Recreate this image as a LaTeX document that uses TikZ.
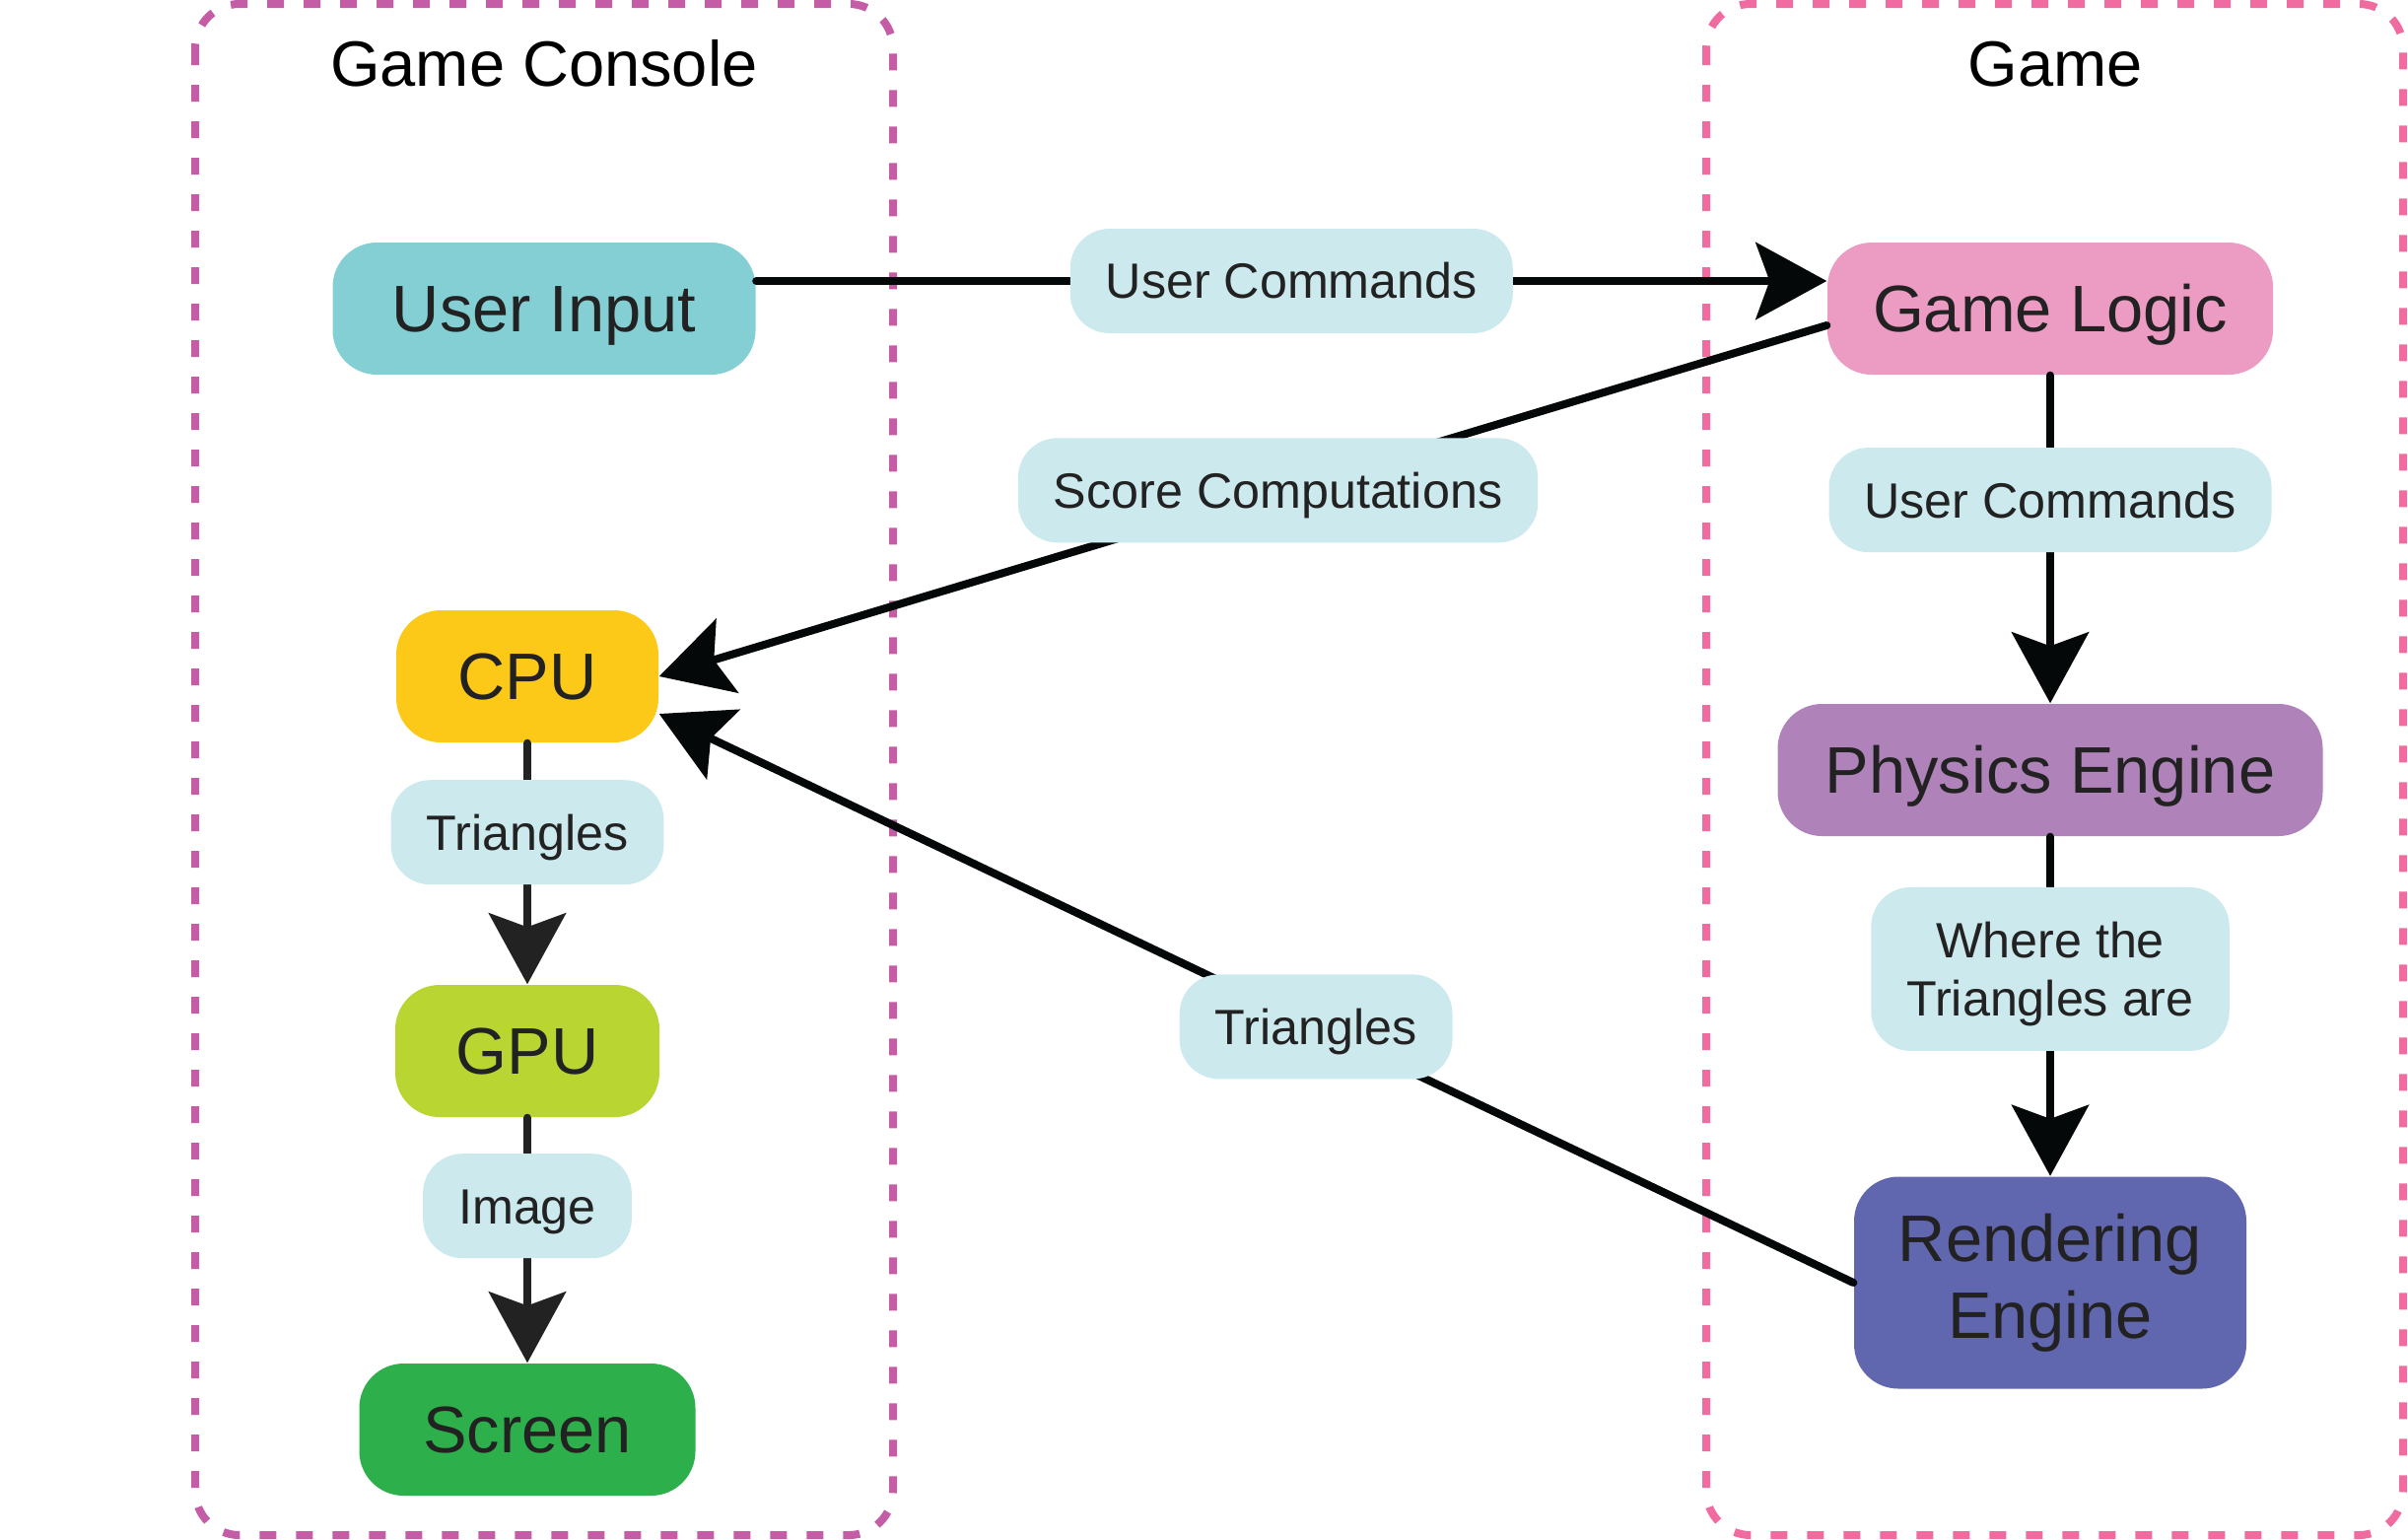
\documentclass[tikz,border=0pt]{standalone}
\usepackage{fontspec}
\setmainfont{Liberation Sans}
\usetikzlibrary{arrows.meta}

\definecolor{inputc}{HTML}{83CFD4}
\definecolor{logicc}{HTML}{EC9BC3}
\definecolor{cpuc}{HTML}{FDC918}
\definecolor{gpuc}{HTML}{B8D532}
\definecolor{screenc}{HTML}{2DB04C}
\definecolor{physicsc}{HTML}{AF83BA}
\definecolor{renderc}{HTML}{6167AF}
\definecolor{lblc}{HTML}{CCE9ED}
\definecolor{consolec}{HTML}{C45DA5}
\definecolor{gamec}{HTML}{F06BA0}
\definecolor{textc}{HTML}{222222}
\definecolor{linec}{HTML}{050808}

\tikzstyle{block} = [rectangle, text=textc, rounded corners=0.45cm, minimum height=1.34cm, text height=13.6pt, text depth=0pt, align=center, font=\fontsize{19pt}{22.2pt}\selectfont]
\tikzstyle{lbl} = [rectangle, fill=lblc, text=textc, rounded corners=0.4cm, minimum height=1.06cm, inner xsep=0.36cm, text height=10.2pt, text depth=0pt, align=center, font=\fontsize{14.3pt}{16.8pt}\selectfont]
\tikzstyle{title} = [anchor=base, font=\fontsize{18.5pt}{22pt}\selectfont]
\tikzstyle{group} = [line width=0.08cm, rounded corners=0.45cm, dash pattern=on 0.17cm off 0.2cm]
\tikzstyle{line} = [draw=linec, line width=0.08cm, line cap=round, -{Stealth[length=0.72cm, width=0.78cm, inset=0.14cm]}]

\begin{document}
\begin{tikzpicture}
  \useasboundingbox (0,0) rectangle (24.43,-15.61);

  % groups
  \draw[group, draw=consolec] (1.98,-0.04) rectangle (9.06,-15.57);
  \draw[group, draw=gamec] (17.31,-0.04) rectangle (24.38,-15.57);
  \node[title] (consoleT) at (5.52,-0.87) {Game Console};
  \node[title] (gameT) at (20.85,-0.87) {Game};

  % game console
  \node[block, fill=inputc, minimum width=4.29cm] (input) at (5.52,-3.13) {User Input};
  \node[block, fill=cpuc, minimum width=2.66cm, below of=input, node distance=3.73cm, xshift=-0.17cm] (cpu) {CPU};
  \node[block, fill=gpuc, minimum width=2.68cm, below of=cpu, node distance=3.80cm] (gpu) {GPU};
  \node[block, fill=screenc, minimum width=3.41cm, below of=gpu, node distance=3.84cm] (screen) {Screen};

  % game
  \node[block, fill=logicc, minimum width=4.52cm, right of=input, node distance=15.28cm] (logic) {Game Logic};
  \node[block, fill=physicsc, minimum width=5.53cm, below of=logic, node distance=4.68cm] (physics) {Physics Engine};
  \node[block, fill=renderc, minimum width=3.98cm, minimum height=2.15cm, text height=35.8pt, text depth=0.12cm, below of=physics, node distance=5.20cm] (render) {Rendering\\Engine};

  \path[line] ([yshift=0.28cm]input.east) -- node[lbl] (cmdtop) {User Commands} ([yshift=0.28cm]logic.west);
  \path[line] ([yshift=-0.17cm]logic.west) -- node[lbl, pos=0.47] (score) {Score Computations} (cpu.east);
  \path[line] (render.west) -- node[lbl, pos=0.45] (trimid) {Triangles} ([yshift=-0.38cm]cpu.east);
  \path[line] (logic) -- node[lbl, pos=0.38] (cmdright) {User Commands} (physics);
  \path[line] (physics) -- node[lbl, pos=0.39, minimum height=1.66cm, text height=27pt] (where) {Where the\\Triangles are} (render);
  \path[line, draw=textc] (cpu) -- node[lbl, pos=0.37] (trileft) {Triangles} (gpu);
  \path[line, draw=textc] (gpu) -- node[lbl, pos=0.36] (image) {Image} (screen);

\end{tikzpicture}
\end{document}
